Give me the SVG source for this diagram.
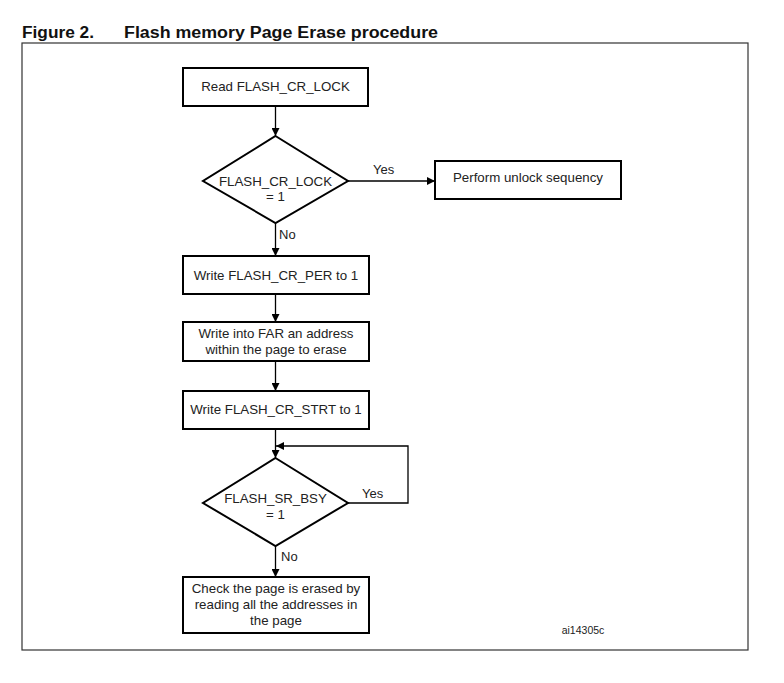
<svg xmlns="http://www.w3.org/2000/svg" width="784" height="683" viewBox="0 0 784 683">
<defs>
<marker id="arr" viewBox="0 0 10 10" refX="10" refY="5" markerWidth="8" markerHeight="8" markerUnits="userSpaceOnUse" orient="auto">
<path d="M0,0 L10,5 L0,10 z" fill="#000"/>
</marker>
<style>
.box{fill:#fff;stroke:#000;stroke-width:2}
.t{font-family:"Liberation Sans",Arial,sans-serif;font-size:13.3px;fill:#222;text-anchor:middle}
.lbl{font-family:"Liberation Sans",Arial,sans-serif;font-size:13px;fill:#222}
.c{fill:none;stroke:#000;stroke-width:1.3}
.title{font-family:"Liberation Sans",Arial,sans-serif;font-size:16px;font-weight:bold;fill:#111}
</style>
</defs>
<rect width="784" height="683" fill="#fff"/>
<text class="title" x="22" y="38" textLength="72" lengthAdjust="spacingAndGlyphs">Figure 2.</text>
<text class="title" x="124" y="38" textLength="314" lengthAdjust="spacingAndGlyphs">Flash memory Page Erase procedure</text>
<rect x="22" y="43" width="726" height="607" fill="none" stroke="#333" stroke-width="1.2"/>

<g id="connectors">
<path class="c" d="M275.5,106 V136" marker-end="url(#arr)"/>
<path class="c" d="M348,181 H435" marker-end="url(#arr)"/>
<path class="c" d="M275.5,223 V256" marker-end="url(#arr)"/>
<path class="c" d="M275.5,294 V322" marker-end="url(#arr)"/>
<path class="c" d="M275.5,361 V391" marker-end="url(#arr)"/>
<path class="c" d="M275.5,429 V458" marker-end="url(#arr)"/>
<path class="c" d="M348,503 H408 V446 H276" marker-end="url(#arr)"/>
<path class="c" d="M275.5,546 V577" marker-end="url(#arr)"/>
<text class="lbl" x="373" y="174">Yes</text>
<text class="lbl" x="279" y="239">No</text>
<text class="lbl" x="362" y="498">Yes</text>
<text class="lbl" x="281" y="561">No</text>
</g>

<g id="n1">
<rect class="box" x="183" y="68" width="185" height="38"/>
<text class="t" x="275.5" y="91">Read FLASH_CR_LOCK</text>
</g>
<g id="d1">
<path class="box" d="M275.5,136 L348,181 L275.5,223 L203,181 Z"/>
<text class="t" x="275.5" y="186">FLASH_CR_LOCK</text>
<text class="t" x="275.5" y="201">= 1</text>
</g>
<g id="n2">
<rect class="box" x="435" y="161" width="186" height="38"/>
<text class="t" x="528" y="182">Perform unlock sequency</text>
</g>
<g id="n3">
<rect class="box" x="183" y="256" width="186" height="38"/>
<text class="t" x="276" y="280">Write FLASH_CR_PER to 1</text>
</g>
<g id="n4">
<rect class="box" x="183" y="322" width="186" height="39"/>
<text class="t" x="276" y="338">Write into FAR an address</text>
<text class="t" x="276" y="354">within the page to erase</text>
</g>
<g id="n5">
<rect class="box" x="183" y="391" width="186" height="38"/>
<text class="t" x="276" y="414">Write FLASH_CR_STRT to 1</text>
</g>
<g id="d2">
<path class="box" d="M275.5,458 L348,503 L275.5,546 L203,503 Z"/>
<text class="t" x="275.5" y="503">FLASH_SR_BSY</text>
<text class="t" x="275.5" y="519">= 1</text>
</g>
<g id="n6">
<rect class="box" x="183" y="577" width="186" height="56"/>
<text class="t" x="276" y="593">Check the page is erased by</text>
<text class="t" x="276" y="609">reading all the addresses in</text>
<text class="t" x="276" y="625">the page</text>
</g>
<text x="583" y="634" font-family="Liberation Sans, Arial, sans-serif" font-size="10.5" fill="#222" text-anchor="middle">ai14305c</text>
</svg>
